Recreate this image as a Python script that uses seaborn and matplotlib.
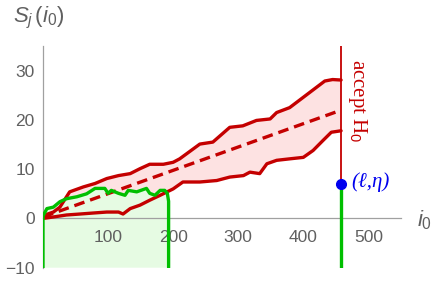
import numpy as np
import seaborn as sns
import matplotlib
matplotlib.use("Agg")
import matplotlib.pyplot as plt

# values
up_x = [0, 3, 16, 26, 41, 62, 80, 98, 116, 134, 149, 164, 185, 200, 210, 241,
        261, 287, 307, 328, 349, 359, 379, 400, 420, 433, 445, 458]
up_y = [0.5, 0.7, 1.3, 2.3, 5.4, 6.4, 7.1, 8.1, 8.7, 9.1, 10.1, 11.0, 11.0, 11.4,
        12.1, 15.1, 15.5, 18.5, 18.8, 19.9, 20.2, 21.5, 22.5, 24.6, 26.6, 27.9, 28.2, 28.1]
lo_x = [0, 16, 36, 57, 77, 98, 116, 123, 134, 149, 164, 180, 200, 215, 241,
        267, 287, 308, 318, 333, 344, 359, 379, 400, 415, 430, 443, 458]
lo_y = [0, 0.3, 0.7, 0.9, 1.1, 1.3, 1.3, 0.9, 2.0, 2.7, 3.7, 4.7, 6.0, 7.4, 7.4,
        7.7, 8.4, 8.7, 9.4, 9.1, 11.1, 11.8, 12.1, 12.4, 13.8, 15.8, 17.5, 17.8]
mean_x = [0, 452]
mean_y = [0.3, 21.7]
grn_x = [0, 0, 6, 16, 26, 36, 52, 67, 80, 95, 100, 105, 116, 126, 131, 144,
         159, 164, 172, 180, 187, 191, 193, 193]
grn_y = [-10, 0.5, 2.0, 2.3, 3.4, 4.0, 4.4, 5.0, 6.1, 6.1, 5.1, 5.7, 5.1, 4.7,
         5.7, 5.4, 6.1, 5.1, 4.7, 5.7, 5.7, 5.1, 3.5, -10]
ell, eta = 458, 7.0
y_top, y_bot = 35, -10
xticks = [100, 200, 300, 400, 500]
yticks = [-10, 0, 10, 20, 30]

sns.set_style("white")
plt.rcParams['font.family'] = ['Liberation Sans', 'DejaVu Sans']
plt.rcParams['mathtext.fontset'] = 'custom'
plt.rcParams['mathtext.it'] = 'Liberation Sans:italic'
plt.rcParams['mathtext.rm'] = 'Liberation Sans'

red = '#c40000'
green = '#00bf00'
gray = '#606060'

fig = plt.figure(figsize=(4.36, 2.82), dpi=100)
ax = fig.add_axes([0.0986, 0.0507, 0.821, 0.786])
ax.set_axisbelow(False)

# shaded areas
ax.fill(up_x + lo_x[::-1], up_y + lo_y[::-1], color='#fde2e2', lw=0, zorder=1)
ax.fill(grn_x, grn_y, color='#e6fbe3', lw=0, zorder=1)

sns.lineplot(x=up_x, y=up_y, sort=False, estimator=None, color=red, lw=2.4, ax=ax, zorder=3)
sns.lineplot(x=lo_x, y=lo_y, sort=False, estimator=None, color=red, lw=2.4, ax=ax, zorder=3)
sns.lineplot(x=mean_x, y=mean_y, sort=False, estimator=None, color=red, lw=2.4,
             ax=ax, zorder=3, linestyle=(0, (3.2, 1.8)))
sns.lineplot(x=grn_x, y=grn_y, sort=False, estimator=None, color=green, lw=2.4, ax=ax, zorder=4)

# decision line at l
ax.plot([ell, ell], [eta, y_top], color=red, lw=1.3, zorder=3)
ax.plot([ell, ell], [y_bot, eta], color=green, lw=2.4, zorder=3)
ax.plot([ell], [eta], 'o', color='#0000ee', ms=7, zorder=5)

ax.text(ell + 16, eta + 0.3, '(ℓ,η)', color='#0000ee', fontsize=15, style='italic',
        family=['Liberation Serif', 'DejaVu Serif'], va='center', ha='left')
ax.text(ell + 26, 32.4, 'accept H$_0$', color=red, fontsize=15, rotation=-90,
        family=['Liberation Serif', 'DejaVu Serif'], va='top', ha='center')

ax.set_xlim(0, 550)
ax.set_ylim(y_bot, y_top)
ax.set_xticks(xticks)
ax.set_yticks(yticks)
ax.set_yticklabels(['\u221210', '0', '10', '20', '30'])
ax.spines['top'].set_visible(False)
ax.spines['right'].set_visible(False)
ax.spines['bottom'].set_position(('data', 0))
for s in ['left', 'bottom']:
    ax.spines[s].set_color('#a0a0a0')
    ax.spines[s].set_linewidth(0.9)
ax.tick_params(axis='both', direction='in', length=3.5, width=0.8, color='#a0a0a0',
               labelcolor=gray, labelsize=12.5)
ax.tick_params(axis='x', pad=8)
ax.tick_params(axis='y', pad=6)
ax.set_xlabel('')
ax.set_ylabel('')

fig.text(13 / 436, 1 - 18 / 282, '$S_j\\,(i_0)$', fontsize=16, color=gray, va='center', ha='left')
fig.text(417 / 436, 1 - 220 / 282, '$i_0$', fontsize=16, color=gray, va='center', ha='left')

fig.savefig('out.png', dpi=100)
